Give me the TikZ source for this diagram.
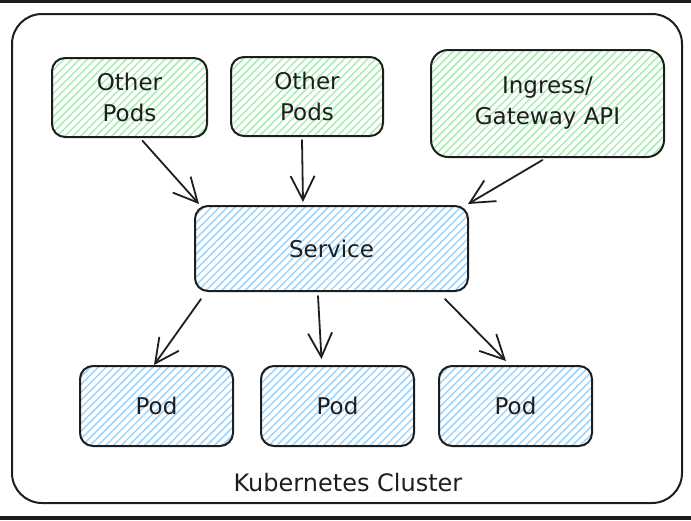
\documentclass[tikz,border=0pt]{standalone}
\usepackage{fontspec}
\setmainfont{DejaVu Sans}
\usetikzlibrary{positioning}
\usetikzlibrary{arrows.meta}
\usetikzlibrary{patterns.meta}

\definecolor{ink}{HTML}{1E1E1E}
\definecolor{leaf}{HTML}{A9EDB3}
\definecolor{sky}{HTML}{9DD3FC}
\definecolor{band}{HTML}{1C1C1C}

\begin{document}
\begin{tikzpicture}[x=1pt,y=1pt,line width=2pt,node distance=181pt,
  box/.style={draw=ink,rounded corners=13pt,align=center,inner sep=0pt,
    font=\fontsize{23}{31}\selectfont,text=ink,
    preaction={fill=white},pattern color=#1,
    pattern={Lines[angle=45,distance=5.5pt,line width=1.5pt]}},
  pod/.style={box=sky,minimum width=153pt,minimum height=80pt},
  flow/.style={draw=ink,line width=1.8pt,line cap=round,-{Straight Barb[length=24pt,width=24pt]}}]
  \useasboundingbox (0,0) rectangle (691,-520);
  \fill[band] (0,0) rectangle (691,-3);
  \fill[band] (0,-516) rectangle (691,-520);

  % cluster frame
  \node[draw=ink,rounded corners=30pt,minimum width=670pt,minimum height=489pt,
    inner sep=0pt] (cluster) at (347,-258.5) {};
  \node[font=\fontsize{24}{28}\selectfont,text=ink] (lbl) at (348,-483) {Kubernetes Cluster};

  \node[box=leaf,minimum width=155pt,minimum height=79pt] (op1) at (129.5,-97.5) {Other\\Pods};
  \node[box=leaf,minimum width=152pt,minimum height=79pt] (op2) at (307,-96.5) {Other\\Pods};
  \node[box=leaf,minimum width=233pt,minimum height=107pt,rounded corners=17pt]
    (gw) at (547.5,-103.5) {Ingress/\\Gateway API};

  \node[box=sky,minimum width=273pt,minimum height=85pt] (svc) at (331.5,-248.5) {Service};

  \node[pod] (p1) at (156.5,-406) {Pod};
  \node[pod] (p2) [right of=p1] {Pod};
  \node[pod] (p3) [right of=p2,xshift=-3pt] {Pod};

  \path ([xshift=13pt,yshift=-3pt]op1.south) edge[flow] ([xshift=5pt,yshift=1pt]svc.north west)
        ([xshift=-5pt,yshift=-3pt]op2.south) edge[flow] ([xshift=-28.5pt,yshift=3pt]svc.north)
        ([xshift=-5pt,yshift=-2pt]gw.south) edge[flow] ([xshift=-1pt,yshift=1pt]svc.north east)
        ([xshift=7pt,yshift=-7pt]svc.south west) edge[flow] ([xshift=-2.5pt]p1.north)
        ([xshift=-13.5pt,yshift=-4pt]svc.south) edge[flow] ([xshift=-16pt,yshift=6pt]p2.north)
        ([xshift=-24pt,yshift=-7pt]svc.south east) edge[flow] ([xshift=-9.5pt,yshift=4pt]p3.north);
\end{tikzpicture}
\end{document}
